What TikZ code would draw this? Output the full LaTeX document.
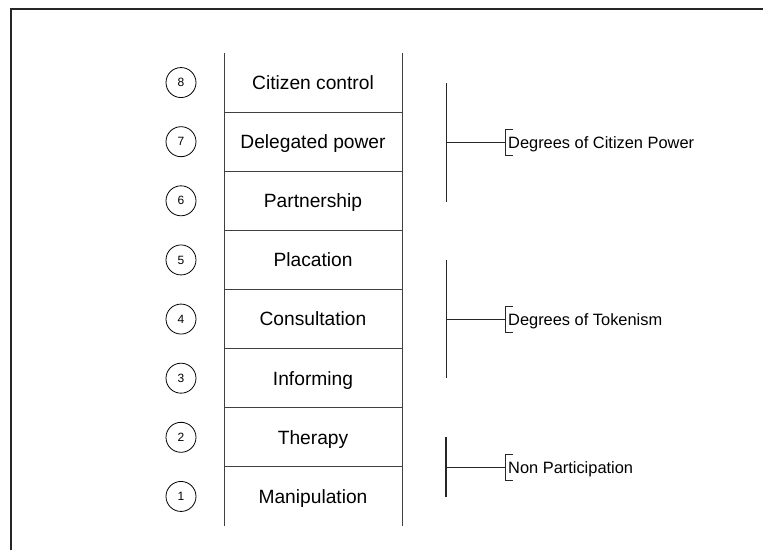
\documentclass[tikz,border=0pt]{standalone}
\usepackage{fontspec}
\setmainfont{Liberation Sans}
\begin{document}
\begin{tikzpicture}[x=1pt,y=-1pt,
  frame/.style={line width=1.2pt, draw=black!85},
  rail/.style={line width=1pt, draw=black!75},
  rungtext/.style={font=\fontsize{19.2}{22}\selectfont, anchor=base, inner sep=0pt},
  numcircle/.style={circle, draw, line width=0.8pt, minimum size=30pt, inner sep=0pt,
                    font=\fontsize{12}{14}\selectfont},
  grouptext/.style={font=\fontsize{16.4}{19}\selectfont, anchor=base west, inner sep=0pt},
  groupline/.style={line width=1pt, draw=black!85},
  bracketline/.style={line width=0.9pt, draw=black!85}]
\useasboundingbox (0,0) rectangle (763,550);

% outer frame (top and left edges)
\draw[frame] (11,550) -- (11,9) -- (763,9);

% ladder rails and rungs
\draw[rail] (224,53) -- (224,526);
\draw[rail] (402,53) -- (402,526);
\foreach \k in {1,...,7}
  \draw[rail] (224,53+\k*59.125) -- (402,53+\k*59.125);

% rung labels and numbers
\foreach \n/\lab [count=\i] in {8/Citizen control,7/Delegated power,6/Partnership,
    5/Placation,4/Consultation,3/Informing,2/Therapy,1/Manipulation}{
  \pgfmathsetmacro{\yc}{53+(\i-0.5)*59.125}
  \node[numcircle] (num\n) at (181,\yc) {\n};
  \node[rungtext] (rung\n) at (313,\yc+6.9) {\lab};
}

% group: citizen power
\coordinate (cpTop) at (446,83);
\coordinate (cpBot) at (446,202);
\coordinate (cpMid) at (446,142);
\coordinate (cpBr) at (505,142);
\draw[groupline] (cpTop) -- (cpBot);
\draw[groupline] (cpMid) -- (cpBr);
\draw[bracketline] ([shift={(8,-13)}]cpBr) -- ([shift={(0,-13)}]cpBr) -- ([shift={(0,13)}]cpBr) -- ([shift={(8,13)}]cpBr);
\node[grouptext] (cpLabel) at (508,148) {Degrees of Citizen Power};

% group: tokenism
\coordinate (tkTop) at (446,260);
\coordinate (tkBot) at (446,378);
\coordinate (tkMid) at (446,319);
\coordinate (tkBr) at (505,319);
\draw[groupline] (tkTop) -- (tkBot);
\draw[groupline] (tkMid) -- (tkBr);
\draw[bracketline] ([shift={(8,-13)}]tkBr) -- ([shift={(0,-13)}]tkBr) -- ([shift={(0,13)}]tkBr) -- ([shift={(8,13)}]tkBr);
\node[grouptext] (tkLabel) at (508,325) {Degrees of Tokenism};

% group: non participation
\coordinate (npTop) at (446,437);
\coordinate (npBot) at (446,497);
\coordinate (npMid) at (446,467);
\coordinate (npBr) at (505,467);
\draw[groupline, line width=2pt] (npTop) -- (npBot);
\draw[groupline] (npMid) -- (npBr);
\draw[bracketline] ([shift={(8,-13)}]npBr) -- ([shift={(0,-13)}]npBr) -- ([shift={(0,13)}]npBr) -- ([shift={(8,13)}]npBr);
\node[grouptext] (npLabel) at (508,473) {Non Participation};
\end{tikzpicture}
\end{document}
